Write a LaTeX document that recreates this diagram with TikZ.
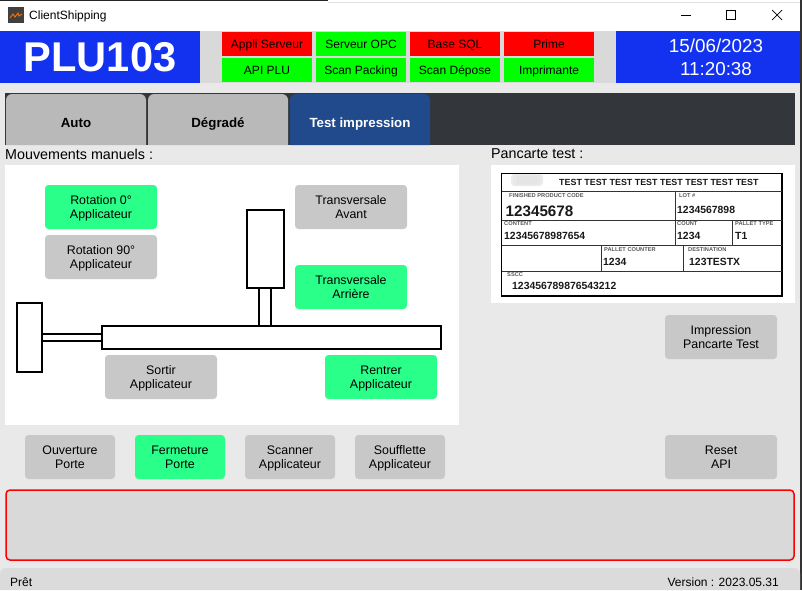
\documentclass[tikz,border=0pt]{standalone}
\usepackage{fontspec}
\setmainfont{Liberation Sans}
\definecolor{hdrblue}{HTML}{1232F0}
\definecolor{hdrgrey}{HTML}{D9D9D9}
\definecolor{pagebg}{HTML}{E9E9E9}
\definecolor{tabbar}{HTML}{33363A}
\definecolor{tabgrey}{HTML}{B9B9B9}
\definecolor{tabblue}{HTML}{214A8C}
\definecolor{okgreen}{HTML}{00FF00}
\definecolor{btngreen}{HTML}{2AFF8A}
\definecolor{btngrey}{HTML}{C8C8C8}
\definecolor{alarmred}{HTML}{FF0000}
\tikzset{
  x=1pt,y=-1pt,
  stat/.style={inner sep=0pt,font=\fontsize{12}{14}\selectfont,minimum width=90pt,minimum height=24pt,text=black,text height=13pt,text depth=4.4pt},
  statred/.style={stat,fill=alarmred},
  statgreen/.style={stat,fill=okgreen},
  wide/.style={minimum width=112pt,minimum height=44pt},
  narrow/.style={minimum width=90pt,minimum height=44pt},
  btn/.style={inner sep=0pt,align=center,rounded corners=3.5pt,text=black,font=\fontsize{12.4}{14}\selectfont,execute at begin node={\rule{0pt}{27pt}},execute at end node=\strut},
  btnon/.style={btn,fill=btngreen},
  btnoff/.style={btn,fill=btngrey},
  tablabel/.style={inner sep=0pt,font=\bfseries\fontsize{13.3}{15}\selectfont},
  mech/.style={draw=black,line width=1.1pt,fill=white},
  lab/.style={draw=black!80,line width=0.9pt},
  labsmall/.style={inner sep=0pt,anchor=west,font=\bfseries\fontsize{5.7}{6}\selectfont,text=black!65},
  labval/.style={inner sep=0pt,anchor=west,font=\bfseries\fontsize{10.4}{11}\selectfont,text=black!90},
  head/.style={inner sep=0pt,anchor=west,font=\fontsize{14.3}{16}\selectfont,text=black}
}
\begin{document}
\begin{tikzpicture}
\useasboundingbox (0,0) rectangle (802,590);
% backgrounds
\fill[pagebg] (0,0) rectangle (802,590);
\fill[white] (0,0) rectangle (800,31);
\fill[black!85] (0,0) rectangle (328,1);
\fill[black!12] (328,2) rectangle (802,3);
\fill[black!80] (800,0) rectangle (802,590);
% title bar
\fill[black!75] (8,7) rectangle (24,23);
\draw[orange!90!red,line width=0.9pt] (10,18) -- (13,14) -- (15,17) -- (18,13) -- (19,16) -- (22,14);
\node[inner sep=0pt,anchor=west,font=\fontsize{12}{14}\selectfont] (title) at (29,16) {ClientShipping};
\draw[black,line width=0.7pt] (681,15) -- (691,15);
\draw[black,line width=0.7pt] (726.5,10.5) rectangle (735.5,19.5);
\draw[black,line width=0.7pt] (772,10) -- (782,20) (782,10) -- (772,20);
% header
\fill[hdrgrey] (0,31) rectangle (800,83);
\fill[hdrblue] (0,31) rectangle (200,83);
\fill[hdrblue] (616,31) rectangle (800,83);
\node[text=white,inner sep=0pt,font=\bfseries\fontsize{41.6}{44}\selectfont] (plu) at (100,57) {PLU103};
\node[text=white,inner sep=0pt,align=center,font=\fontsize{18.8}{23}\selectfont] (clock) at (716,57) {15/06/2023\\11:20:38};
\node[statred] (s1) at (267,44) {Appli Serveur};
\node[statgreen] (s2) at (361,44) {Serveur OPC};
\node[statred] (s3) at (455,44) {Base SQL};
\node[statred] (s4) at (549,44) {Prime};
\node[statgreen] (s5) at (267,70) {API PLU};
\node[statgreen] (s6) at (361,70) {Scan Packing};
\node[statgreen] (s7) at (455,70) {Scan Dépose};
\node[statgreen] (s8) at (549,70) {Imprimante};
% tabs
\fill[tabbar] (5,93) rectangle (795,145);
\fill[tabgrey] (6,145) {[rounded corners=6pt] -- (6,94) -- (146,94)} -- (146,145) -- cycle;
\fill[tabgrey] (148,145) {[rounded corners=6pt] -- (148,94) -- (288,94)} -- (288,145) -- cycle;
\fill[tabblue] (290,145) {[rounded corners=6pt] -- (290,94) -- (430,94)} -- (430,145) -- cycle;
\node[tablabel,anchor=base] (t1) at (76,127) {Auto};
\node[tablabel,anchor=base] (t2) at (218,127) {Dégradé};
\node[tablabel,anchor=base,text=white] (t3) at (360,127) {Test impression};
% section heads
\node[head] (h1) at (5,154) {Mouvements manuels :};
\node[head] (h2) at (491,154) {Pancarte test :};
% panels
\fill[white] (5,165) rectangle (459,425);
\fill[white] (491,165) rectangle (795,303);
% mechanism
\draw[mech] (247,210) rectangle (284,288);
\draw[mech] (259,288) rectangle (271,326);
\draw[mech] (42,334) rectangle (102,341);
\draw[mech] (17,303) rectangle (42,372);
\draw[mech] (102,326) rectangle (441,349);
% buttons
\node[btnon,wide] (b1) at (101,207) {Rotation 0°\\Applicateur};
\node[btnoff,wide] (b2) at (101,257) {Rotation 90°\\Applicateur};
\node[btnoff,wide] (b3) at (351,207) {Transversale\\Avant};
\node[btnon,wide] (b4) at (351,287) {Transversale\\Arrière};
\node[btnoff,wide] (b5) at (161,377) {Sortir\\Applicateur};
\node[btnon,wide] (b6) at (381,377) {Rentrer\\Applicateur};
\node[btnoff,narrow] (b7) at (70,457) {Ouverture\\Porte};
\node[btnon,narrow] (b8) at (180,457) {Fermeture\\Porte};
\node[btnoff,narrow] (b9) at (290,457) {Scanner\\Applicateur};
\node[btnoff,narrow] (b10) at (400,457) {Soufflette\\Applicateur};
\node[btnoff,wide] (b11) at (721,337) {Impression\\Pancarte Test};
\node[btnoff,wide] (b12) at (721,457) {Reset\\API};
% pallet label
\fill[black!7,rounded corners=3pt] (511,174) rectangle (543,186);
\fill[black!9,rounded corners=3pt] (513,175) rectangle (541,185);
\fill[black!10,rounded corners=3pt] (516,176) rectangle (538,184);
\draw[black,line width=1.3pt] (501.5,173.5) rectangle (782,296);
\draw[lab] (501.5,191) -- (782,191) (501.5,220) -- (782,220) (501.5,245) -- (782,245) (501.5,271) -- (782,271);
\draw[lab] (675,191) -- (675,245) (732,220) -- (732,245) (601,245) -- (601,271) (683,245) -- (683,271);
\node[inner sep=0pt,anchor=west,font=\bfseries\fontsize{8.9}{10}\selectfont,text=black!90] (l0) at (559,182) {TEST TEST TEST TEST TEST TEST TEST TEST};
\node[labsmall] (l1) at (509,196) {FINISHED PRODUCT CODE};
\node[inner sep=0pt,anchor=west,font=\bfseries\fontsize{15.2}{16}\selectfont,text=black!90] (l2) at (505.5,211) {12345678};
\node[labsmall] (l3) at (679,196) {LOT \#};
\node[labval] (l4) at (677,210) {1234567898};
\node[labsmall] (l5) at (504,224) {CONTENT};
\node[labval] (l6) at (504,236) {12345678987654};
\node[labsmall] (l7) at (677,224) {COUNT};
\node[labval] (l8) at (677,236) {1234};
\node[labsmall] (l9) at (735,224) {PALLET TYPE};
\node[labval] (l10) at (735,236) {T1};
\node[labsmall] (l11) at (604,250) {PALLET COUNTER};
\node[labval] (l12) at (603,262) {1234};
\node[labsmall] (l13) at (688,250) {DESTINATION};
\node[labval] (l14) at (689,262) {123TESTX};
\node[labsmall] (l15) at (507,275) {SSCC};
\node[labval] (l16) at (512,286) {123456789876543212};
% message box
\draw[alarmred,fill=hdrgrey,line width=1.5pt,rounded corners=4pt] (6,490) rectangle (794,560);
% status bar
\fill[hdrgrey!95!white] (0,590) {[rounded corners=5pt] -- (0,568) -- (800,568)} -- (800,590) -- cycle;
\node[inner sep=0pt,anchor=west,font=\fontsize{12}{14}\selectfont] (pret) at (10,582) {Prêt};
\node[inner sep=0pt,anchor=east,font=\fontsize{12}{14}\selectfont] (ver) at (779,582) {Version : 2023.05.31};
\end{tikzpicture}
\end{document}
